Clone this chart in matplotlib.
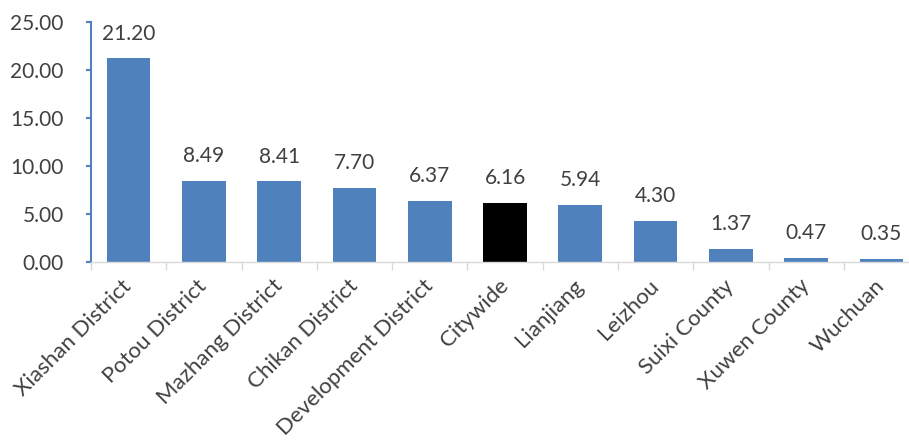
import matplotlib.pyplot as plt
import numpy as np

# data
categories = ["Xiashan District", "Potou District", "Mazhang District", "Chikan District",
              "Development District", "Citywide", "Lianjiang", "Leizhou",
              "Suixi County", "Xuwen County", "Wuchuan"]
values = [21.20, 8.49, 8.41, 7.70, 6.37, 6.16, 5.94, 4.30, 1.37, 0.47, 0.35]
highlight = "Citywide"
yticks = [0, 5, 10, 15, 20, 25]

blue = "#4F81BD"
text_col = "#404040"
plt.rcParams["font.family"] = ["Lato", "DejaVu Sans"]

fig = plt.figure(figsize=(9.09, 4.4), dpi=100)
ax = fig.add_axes([0.1001, 0.4045, 0.911, 0.5455])

x = np.arange(len(categories))
colors = ["black" if c == highlight else blue for c in categories]
ax.bar(x, values, width=0.58, color=colors)

# value labels above bars
for xi, v in zip(x, values):
    ax.annotate(f"{v:.2f}", (xi, v), xytext=(0, 13.5), textcoords="offset points",
                ha="center", va="baseline", fontsize=15, color=text_col)

ax.set_xlim(-0.5, len(categories) - 0.5)
ax.set_ylim(0, 25)
ax.set_yticks(yticks)
ax.set_yticklabels([f"{t:.2f}" for t in yticks], fontsize=15, color=text_col)

# category labels, tick marks between categories
ax.set_xticks(x)
ax.set_xticklabels(categories, rotation=45, ha="right", va="center",
                   rotation_mode="anchor", fontsize=16, color=text_col)
ax.tick_params(axis="x", length=0, pad=15)
ax.set_xticks(np.arange(-0.5, len(categories), 1), minor=True)
ax.tick_params(axis="x", which="minor", length=6, color="#D9D9D9", width=1)

ax.tick_params(axis="y", length=3.6, color=blue, width=1.5, direction="out", pad=16)

for s in ["top", "right"]:
    ax.spines[s].set_visible(False)
ax.spines["left"].set_color(blue)
ax.spines["left"].set_linewidth(1.5)
ax.spines["bottom"].set_color("#D9D9D9")
ax.spines["bottom"].set_linewidth(1)

fig.savefig("out.png", dpi=100)
